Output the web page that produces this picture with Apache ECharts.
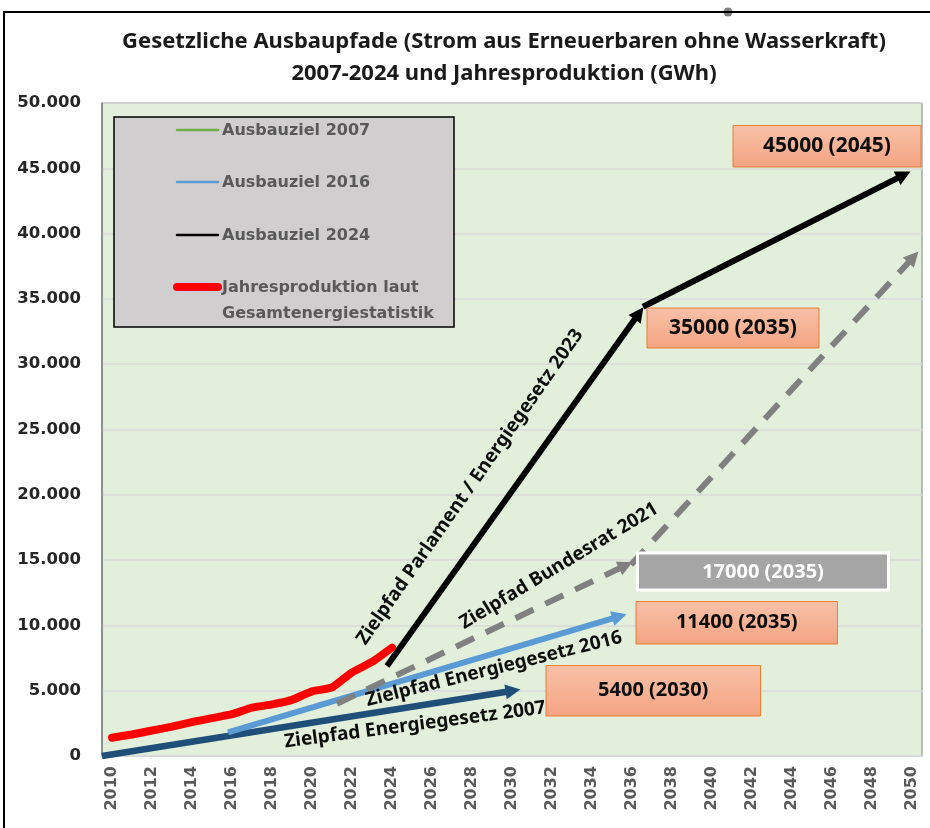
<!DOCTYPE html>
<html><head><meta charset="utf-8">
<script src="https://cdn.jsdelivr.net/npm/echarts@6/dist/echarts.min.js"></script>
<style>html,body{margin:0;padding:0;background:#fff}#c{width:930px;height:828px}</style>
</head><body><div id="c"></div>
<script>
// ---------- data ----------
const titleLines = ['Gesetzliche Ausbaupfade (Strom aus Erneuerbaren ohne Wasserkraft)', '2007-2024 und Jahresproduktion (GWh)'];
const xTickYears = [2010,2012,2014,2016,2018,2020,2022,2024,2026,2028,2030,2032,2034,2036,2038,2040,2042,2044,2046,2048,2050];
const productionYears = [2010,2011,2012,2013,2014,2015,2016,2017,2018,2019,2020,2021,2022,2023,2024];
const production = [1400,1650,1950,2250,2600,2900,3200,3700,3950,4300,4950,5250,6400,7200,8300];
const path2007 = [[2009.5,0],[2030.05,5000]];
const path2016 = [[2015.8,1800],[2035.37,10690]];
const pathBundesrat1 = [[2021.25,4000],[2035.69,14600]];
const pathBundesrat2 = [[2035.95,14650],[2050.07,38200]];
const pathParlament1 = [[2023.75,6900],[2036.35,33900]];
const pathParlament2 = [[2036.55,34400],[2049.59,44500]];
const legendNames = ['Ausbauziel 2007','Ausbauziel 2016','Ausbauziel 2024','Jahresproduktion laut','Gesamtenergiestatistik'];
const pathLabels = ['Zielpfad Energiegesetz 2007','Zielpfad Energiegesetz 2016','Zielpfad Bundesrat 2021','Zielpfad Parlament / Energiegesetz 2023'];
const targetLabels = ['5400 (2030)','11400 (2035)','17000 (2035)','35000 (2035)','45000 (2045)'];

// ---------- chart ----------
const chart = echarts.init(document.getElementById('c'), null, {renderer:'canvas'});
const fmt = v => String(v).replace(/\B(?=(\d{3})+(?!\d))/g, '.');

function arrow(name, path, color, width, dashed, z) {
  return {
    name, type:'lines', coordinateSystem:'cartesian2d', z, silent:true,
    symbol:['none','triangle'], symbolSize:15,
    lineStyle:{color, width, opacity:1, curveness:0, type: dashed ? [20,13] : 'solid'},
    data:[{coords:path}]
  };
}

const orangeFill = {type:'linear', x:0, y:0, x2:0, y2:1, colorStops:[{offset:0,color:'#F8C1A9'},{offset:1,color:'#F4A482'}]};
function box(x, y, w, h, text, fs) {
  return [
    {type:'rect', z:20, shape:{x, y, width:w, height:h}, style:{fill:orangeFill, stroke:'#ED7D31', lineWidth:1}},
    {type:'text', z:21, x:x+w/2, y:y+h/2, style:{text, fill:'#0D0D0D', fontFamily:'Noto Sans', fontWeight:'bold', fontSize:fs, align:'center', verticalAlign:'middle', textAlign:'center', textVerticalAlign:'middle'}}
  ];
}
function rotText(text, x, y, deg) {
  return {type:'text', z:22, x, y, rotation: deg*Math.PI/180,
    style:{text, fill:'#0D0D0D', fontFamily:'Noto Sans', fontWeight:'bold', fontSize:19, align:'center', verticalAlign:'middle', textAlign:'center', textVerticalAlign:'middle'}};
}
function legText(text, x, y) {
  return {type:'text', z:21, x, y, style:{text, fill:'#595959', fontFamily:'DejaVu Sans', fontWeight:'bold', fontSize:16, align:'left', verticalAlign:'middle', textAlign:'left', textVerticalAlign:'middle'}};
}
function legLine(y, color, w) {
  return {type:'line', z:21, shape:{x1:177, y1:y, x2:218, y2:y}, style:{stroke:color, lineWidth:w, lineCap:'round'}};
}

const graphics = [
  {type:'circle', z:1, shape:{cx:728, cy:12, r:4.5}, style:{fill:'#7F7F7F'}},
  {type:'rect', z:2, shape:{x:4, y:12, width:940, height:830}, style:{fill:null, stroke:'#000', lineWidth:2}},
  {type:'text', z:5, x:504, y:42, style:{text:titleLines[0], fill:'#1A1A1A', fontFamily:'Noto Sans', fontWeight:'bold', fontSize:22, align:'center', verticalAlign:'middle', textAlign:'center', textVerticalAlign:'middle'}},
  {type:'text', z:5, x:504, y:74, style:{text:titleLines[1], fill:'#1A1A1A', fontFamily:'Noto Sans', fontWeight:'bold', fontSize:22, align:'center', verticalAlign:'middle', textAlign:'center', textVerticalAlign:'middle'}},
  // legend
  {type:'rect', z:20, shape:{x:114, y:117, width:340, height:210}, style:{fill:'#D0CECE', stroke:'#000', lineWidth:1.5}},
  legLine(130, '#70AD47', 2.5), legText(legendNames[0], 222, 131),
  legLine(182, '#5B9BD5', 2.5), legText(legendNames[1], 222, 183),
  legLine(235, '#000000', 2.5), legText(legendNames[2], 222, 236),
  legLine(287, '#FF0000', 8), legText(legendNames[3], 222, 288),
  legText(legendNames[4], 222, 314),
  // path labels
  rotText(pathLabels[0], 415, 725, 7.5),
  rotText(pathLabels[1], 494, 669, 14),
  rotText(pathLabels[2], 559, 566, 31),
  rotText(pathLabels[3], 470, 487, 55),
  // target boxes
  ...box(546, 665.5, 214.5, 50.5, targetLabels[0], 20),
  ...box(636, 601.5, 201.5, 42.5, targetLabels[1], 20),
  {type:'rect', z:20, shape:{x:637.5, y:553, width:251, height:37}, style:{fill:'#A5A5A5', stroke:'#FFFFFF', lineWidth:3}},
  {type:'text', z:21, x:763, y:572, style:{text:targetLabels[2], fill:'#FFFFFF', fontFamily:'Noto Sans', fontWeight:'bold', fontSize:20, align:'center', verticalAlign:'middle', textAlign:'center', textVerticalAlign:'middle'}},
  ...box(647, 308, 172, 40, targetLabels[3], 21),
  ...box(733, 125.5, 188, 41.5, targetLabels[4], 21)
];

chart.setOption({
  animation:false,
  backgroundColor:'#FFFFFF',
  grid:{left:102, right:8, top:103, bottom:72, show:true, backgroundColor:'#E2EFDA', borderColor:'#808080', borderWidth:1},
  xAxis:{
    type:'value', min:2009.5, max:2050.5,
    axisLine:{show:true, onZero:false, lineStyle:{color:'#D9D9D9', width:2}},
    axisTick:{show:false}, splitLine:{show:false},
    axisLabel:{customValues:xTickYears, rotate:90, margin:10, color:'#595959', fontFamily:'DejaVu Sans', fontWeight:'bold', fontSize:16, formatter: v => String(v)}
  },
  yAxis:{
    type:'value', min:0, max:50000, interval:5000,
    axisLine:{show:true, lineStyle:{color:'#7F7F7F', width:1.5}},
    axisTick:{show:false},
    splitLine:{lineStyle:{color:'#D9D9D9', width:1.5}},
    axisLabel:{formatter:fmt, color:'#262626', fontFamily:'DejaVu Sans', fontWeight:'bold', fontSize:16.5, margin:21}
  },
  series:[
    arrow('Zielpfad Energiegesetz 2007', path2007, '#1F4E79', 6.5, false, 3),
    arrow('Zielpfad Energiegesetz 2016', path2016, '#5B9BD5', 6, false, 4),
    arrow('Zielpfad Bundesrat 2021 (1)', pathBundesrat1, '#808080', 6, true, 5),
    arrow('Zielpfad Bundesrat 2021 (2)', pathBundesrat2, '#808080', 6, true, 5),
    arrow('Zielpfad Parlament 2023 (1)', pathParlament1, '#000000', 6, false, 6),
    arrow('Zielpfad Parlament 2023 (2)', pathParlament2, '#000000', 6, false, 6),
    {
      name:'Jahresproduktion laut Gesamtenergiestatistik', type:'line', z:7, silent:true,
      symbol:'none', smooth:0.15,
      lineStyle:{color:'#FF0000', width:8, cap:'round', join:'round'},
      data: productionYears.map((y,i)=>[y, production[i]])
    }
  ],
  graphic: graphics
});
</script></body></html>
